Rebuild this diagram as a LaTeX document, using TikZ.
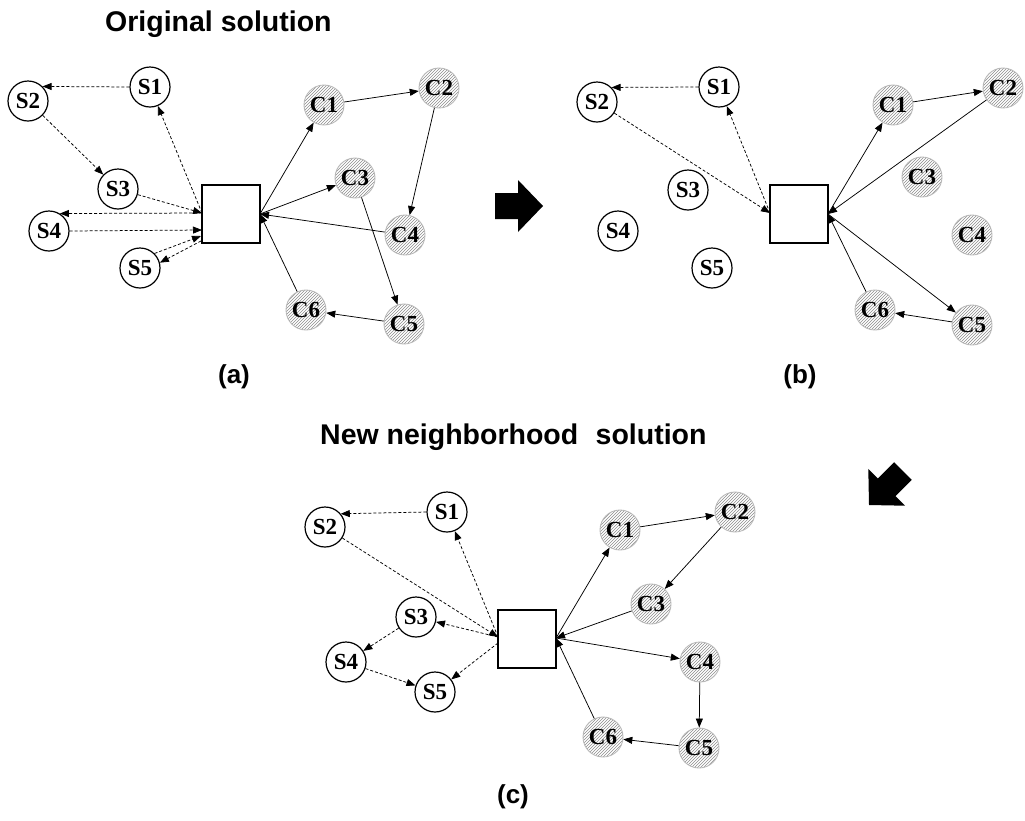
\documentclass[tikz,border=0pt]{standalone}
\usepackage{fontspec}
\setmainfont{Liberation Serif}
\newfontfamily\titlefont{Liberation Sans}
\usetikzlibrary{arrows.meta,patterns}
\begin{document}
\begin{tikzpicture}[x=1pt,y=-1pt,
  snode/.style={circle,draw,line width=1.2pt,minimum size=40pt,inner sep=0pt,font=\fontsize{23}{23}\selectfont\bfseries},
  cnode/.style={circle,draw=gray!55,line width=0.9pt,minimum size=40pt,inner sep=0pt,pattern=north east lines,pattern color=gray!90,font=\fontsize{23}{23}\selectfont\bfseries},
  depot/.style={draw,line width=1.3pt,minimum size=58pt,inner sep=0pt},
  dl/.style={line width=0.75pt,dash pattern=on 3pt off 2pt,-{Triangle[length=9pt,width=7pt]}},
  sl/.style={line width=0.75pt,-{Triangle[length=9pt,width=7pt]}},
  ttl/.style={font=\titlefont\bfseries\fontsize{28.5}{28.5}\selectfont,inner sep=0pt},
  lbl/.style={font=\titlefont\bfseries\fontsize{26}{26}\selectfont,inner sep=0pt},
  bigarrow/.style={fill=black,draw=none}
]
\useasboundingbox (0,0) rectangle (1025,820);

% titles and labels
\node[ttl,anchor=base west] (t1) at (105,31) {Original solution};
\node[ttl,anchor=base west] (t2) at (320,444) {New neighborhood\,\, solution};
\node[lbl] (la) at (234,377) {(a)};
\node[lbl] (lb) at (800,377) {(b)};
\node[lbl] (lc) at (513,797) {(c)};

% big arrows
\fill[bigarrow] (495,193) -- (518,193) -- (518,180) -- (543,206) -- (518,232) -- (518,219) -- (495,219) -- cycle;
\fill[bigarrow] (894.1,462.2) -- (877.9,478.5) -- (868.3,468.9) -- (869.0,505.0) -- (905.1,505.7) -- (895.6,496.1) -- (911.8,479.9) -- cycle;

% ---------- panel (a)
\node[depot] (aB) at (231,214) {};
\node[snode] (aS1) at (150,87) {S1};
\node[snode] (aS2) at (28,101) {S2};
\node[snode] (aS3) at (118,189) {S3};
\node[snode] (aS4) at (49,231) {S4};
\node[snode] (aS5) at (140,268) {S5};
\node[cnode] (aC1) at (324,105) {C1};
\node[cnode] (aC2) at (439,88) {C2};
\node[cnode] (aC3) at (355,178) {C3};
\node[cnode] (aC4) at (405,235) {C4};
\node[cnode] (aC5) at (404,324) {C5};
\node[cnode] (aC6) at (306,310) {C6};
\coordinate (aL1) at (202,213);
\coordinate (aL2) at (202,230);
\coordinate (aL3) at (201,236);
\coordinate (aL4) at (201,241);
\coordinate (aR) at (260,214);

\draw[dl] (aL1) -- (aS1);
\draw[dl] (aS1.west) -- (aS2.45);
\draw[dl] (aS2) -- (aS3);
\draw[dl] (aS3) -- (aL1);
\draw[dl] (aL1) -- (aS4.58);
\draw[dl] (aS4.east) -- (aL2);
\draw[dl] (aS5.45) -- (aL3);
\draw[dl] (aL4) -- (aS5.15);

\draw[sl] (aR) -- (aC1);
\draw[sl] (aC1) -- (aC2);
\draw[sl] (aC2) -- (aC4);
\draw[sl] (aC4) -- (aR);
\draw[sl] (aR) -- (aC3);
\draw[sl] (aC3) -- (aC5);
\draw[sl] (aC5) -- (aC6);
\draw[sl] (aC6) -- (aR);

% ---------- panel (b)
\node[depot] (bB) at (799,214) {};
\node[snode] (bS1) at (719,87) {S1};
\node[snode] (bS2) at (597,102) {S2};
\node[snode] (bS3) at (688,190) {S3};
\node[snode] (bS4) at (618,231) {S4};
\node[snode] (bS5) at (712,268) {S5};
\node[cnode] (bC1) at (893,105) {C1};
\node[cnode] (bC2) at (1003,88) {C2};
\node[cnode] (bC3) at (922,177) {C3};
\node[cnode] (bC4) at (972,235) {C4};
\node[cnode] (bC5) at (972,325) {C5};
\node[cnode] (bC6) at (875,310) {C6};
\coordinate (bL) at (770,213);
\coordinate (bR) at (828,214);

\draw[dl] (bL) -- (bS1);
\draw[dl] (bS1.west) -- (bS2.45);
\draw[dl] (bS2) -- (bL);

\draw[sl] (bR) -- (bC1);
\draw[sl] (bC1) -- (bC2);
\draw[sl] (bC2) -- (bR);
\draw[sl] (bR) -- (bC5);
\draw[sl] (bC5) -- (bC6);
\draw[sl] (bC6) -- (bR);

% ---------- panel (c)
\node[depot] (cB) at (527,639) {};
\node[snode] (cS1) at (447,512) {S1};
\node[snode] (cS2) at (325,527) {S2};
\node[snode] (cS3) at (416,617) {S3};
\node[snode] (cS4) at (346,662) {S4};
\node[snode] (cS5) at (435,692) {S5};
\node[cnode] (cC1) at (620,530) {C1};
\node[cnode] (cC2) at (735,512) {C2};
\node[cnode] (cC3) at (651,604) {C3};
\node[cnode] (cC4) at (700,662) {C4};
\node[cnode] (cC5) at (699,748) {C5};
\node[cnode] (cC6) at (603,737) {C6};
\coordinate (cL) at (498,637);
\coordinate (cL2) at (498,643);
\coordinate (cR) at (556,638);

\draw[dl] (cL) -- (cS1);
\draw[dl] (cS1.west) -- (cS2.40);
\draw[dl] (cS2) -- (cL);
\draw[dl] (cL) -- (cS3);
\draw[dl] (cS3) -- (cS4);
\draw[dl] (cS4) -- (cS5);
\draw[dl] (cL2) -- (cS5);

\draw[sl] (cR) -- (cC1);
\draw[sl] (cC1) -- (cC2);
\draw[sl] (cC2) -- (cC3);
\draw[sl] (cC3) -- (cR);
\draw[sl] (cR) -- (cC4);
\draw[sl] (cC4) -- (cC5);
\draw[sl] (cC5) -- (cC6);
\draw[sl] (cC6) -- (cR);
\end{tikzpicture}
\end{document}
